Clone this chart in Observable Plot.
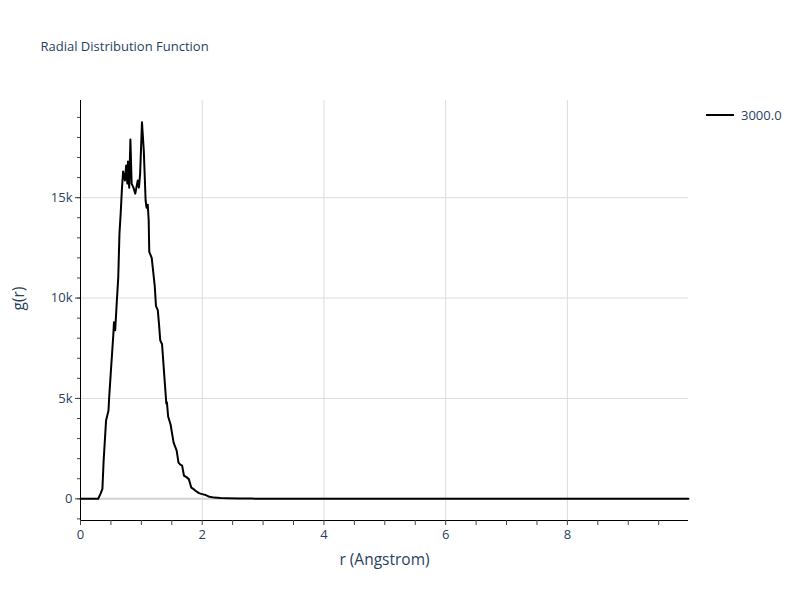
<!DOCTYPE html>
<html>
<head>
<meta charset="utf-8">
<script src="https://cdn.jsdelivr.net/npm/d3@7"></script>
<script src="https://cdn.jsdelivr.net/npm/@observablehq/plot@0.6"></script>
<style>
  body { margin: 0; background: #fff; }
  #wrap { position: relative; width: 800px; height: 600px; font-family: "Open Sans", sans-serif; }
  #legend { position: absolute; left: 706px; top: 105px; display: flex; align-items: center; font-size: 13px; color: #2a3f5f; }
  #legend span { margin-left: 5px; }
</style>
</head>
<body>
<div id="wrap">
  <div id="chart"></div>
  <div id="legend"><svg width="30" height="20"><line x1="0" y1="10" x2="28" y2="10" stroke="#000" stroke-width="2"></line></svg><span>3000.0</span></div>
</div>
<script>
const title = "Radial Distribution Function";
const xTitle = "r (Angstrom)";
const yTitle = "g(r)";
const seriesName = "3000.0";

const rVals = [0, 0.29, 0.33, 0.36, 0.38, 0.42, 0.46, 0.47, 0.50, 0.54, 0.55, 0.57, 0.60, 0.62, 0.64, 0.66, 0.68, 0.70, 0.73, 0.75, 0.77, 0.78, 0.80, 0.82, 0.84, 0.87, 0.90, 0.94, 0.96, 0.98, 1.01, 1.04, 1.07, 1.085, 1.105, 1.12, 1.13, 1.17, 1.22, 1.24, 1.27, 1.29, 1.31, 1.34, 1.38, 1.41, 1.42, 1.44, 1.48, 1.53, 1.58, 1.61, 1.64, 1.67, 1.70, 1.74, 1.78, 1.82, 1.86, 1.89, 1.94, 1.97, 2.02, 2.05, 2.12, 2.2, 2.3, 2.4, 2.6, 2.8, 3.0, 3.5, 4, 5, 6, 7, 8, 9, 9.99];
const gVals = [0, 0, 260, 500, 1900, 3900, 4400, 5000, 6400, 8200, 8800, 8400, 10000, 11000, 13200, 14200, 15400, 16300, 15850, 16600, 15700, 16800, 15500, 17900, 15700, 15500, 15200, 15850, 15500, 16200, 18760, 17350, 14850, 14500, 14650, 13900, 12300, 12000, 10600, 9600, 9400, 8700, 7900, 7700, 6000, 4750, 4800, 4100, 3700, 2800, 2400, 1800, 1700, 1650, 1150, 1080, 980, 560, 480, 400, 300, 260, 220, 200, 100, 60, 40, 30, 15, 10, 5, 0, 0, 0, 0, 0, 0, 0, 0];

const xDomain = [0, 9.99];
const yDomain = [-1080, 19840];
const xTicks = d3.range(0, 10, 0.5);
const xLabels = [0, 2, 4, 6, 8];
const yMajor = [0, 5000, 10000, 15000];
const yMinor = d3.range(-1000, 20000, 1000);

const data = rVals.map((r, i) => ({r, g: gVals[i]}));
const textColor = "#2a3f5f";

const chart = Plot.plot({
  width: 800,
  height: 600,
  marginLeft: 80,
  marginRight: 112,
  marginTop: 100,
  marginBottom: 80,
  style: {fontFamily: "'Open Sans', sans-serif", fontSize: "13px", color: textColor, background: "#fff"},
  x: {domain: xDomain},
  y: {domain: yDomain},
  marks: [
    Plot.gridX(xLabels.filter(d => d !== 0), {stroke: "#dcdcdc", strokeOpacity: 1}),
    Plot.gridY(yMajor.filter(d => d !== 0), {stroke: "#dcdcdc", strokeOpacity: 1}),
    Plot.ruleY([0], {stroke: "#d2d2d2", strokeWidth: 2}),
    Plot.line(data, {x: "r", y: "g", stroke: "#000", strokeWidth: 2, curve: "linear"}),
    Plot.ruleY([yDomain[0]], {stroke: "#000", strokeWidth: 1}),
    Plot.ruleX([xDomain[0]], {stroke: "#000", strokeWidth: 1}),
    Plot.axisX(xTicks, {tickSize: 5, tickPadding: 4, stroke: "#444", fill: textColor, fontSize: 13,
      tickFormat: d => xLabels.includes(d) ? String(d) : "", label: null}),
    Plot.axisY(yMinor, {tickSize: 3, stroke: "#444", tickFormat: () => "", label: null}),
    Plot.axisY(yMajor, {tickSize: 5, tickPadding: 3, stroke: "#444", fill: textColor, fontSize: 13,
      tickFormat: d => d === 0 ? "0" : (d / 1000) + "k", label: null}),
    Plot.text([xTitle], {frameAnchor: "bottom", dy: 44, fontSize: 15.5, fill: textColor}),
    Plot.text([yTitle], {frameAnchor: "left", dx: -61, rotate: -90, fontSize: 15.5, fill: textColor}),
    Plot.text([title], {frameAnchor: "top-left", dx: -40, dy: -59, textAnchor: "start", fontSize: 13, fill: textColor})
  ]
});
document.getElementById("chart").appendChild(chart);
</script>
</body>
</html>
